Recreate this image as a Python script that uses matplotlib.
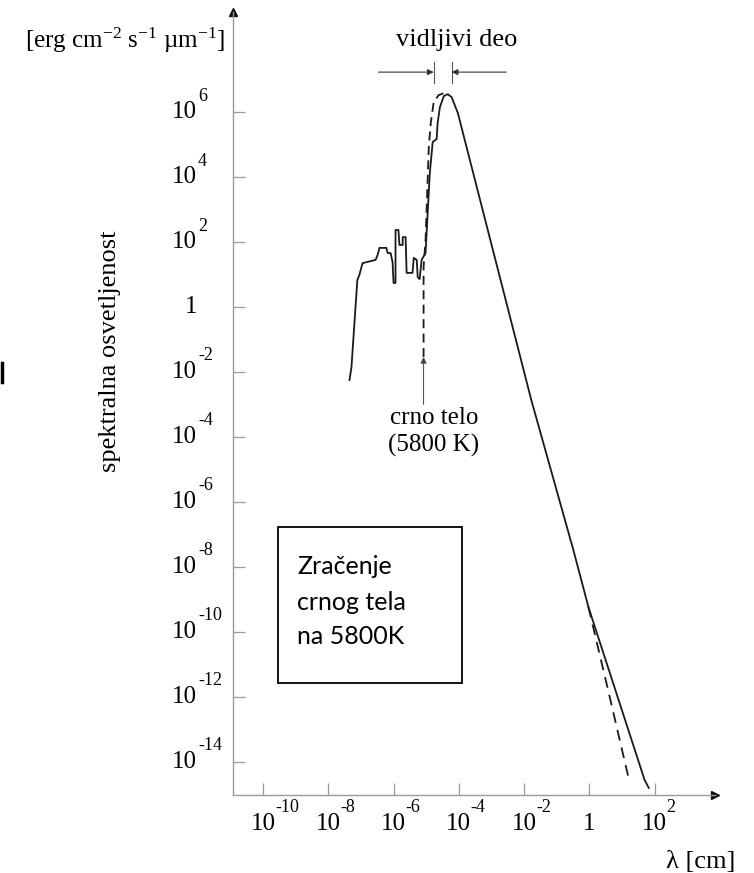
import matplotlib
matplotlib.use('Agg')
import numpy as np
import matplotlib.pyplot as plt
import matplotlib.transforms as mtransforms
from matplotlib.patches import Rectangle
from matplotlib.lines import Line2D
from matplotlib.ticker import NullLocator

plt.rcParams['font.family'] = ['Liberation Serif', 'DejaVu Serif']
plt.rcParams['mathtext.fontset'] = 'custom'
plt.rcParams['mathtext.rm'] = 'Liberation Serif'
plt.rcParams['mathtext.it'] = 'Liberation Serif:italic'

# Solar spectrum (log10 of lambda [cm] and of flux)
sun_logx = [-7.35, -7.29, -7.11, -7.05, -6.95, -6.55, -6.49, -6.43, -6.22, -6.18,
            -6.09, -6.03, -6.00, -5.94, -5.94, -5.85, -5.82, -5.72, -5.72, -5.63,
            -5.60, -5.42, -5.38, -5.29, -5.26, -5.20, -5.14, -5.02, -4.89, -4.80,
            -4.68, -4.65, -4.58, -4.46, -4.34, -4.22, -4.03, -1.78, -0.49, -0.03,
            1.69, 1.82]
sun_logy = [-2.25, -1.85, 0.83, 0.98, 1.35, 1.45, 1.60, 1.82, 1.82, 1.66,
            1.66, 1.38, 0.74, 0.74, 2.37, 2.37, 1.91, 1.91, 2.15, 2.15,
            1.05, 1.05, 1.51, 1.45, 0.92, 0.86, 1.45, 1.66, 4.12, 5.08,
            5.17, 5.66, 6.15, 6.49, 6.55, 6.46, 5.97, -2.86, -7.48, -9.23,
            -14.55, -14.80]

# Black body 5800 K (dashed): short-wave rise and long-wave tail
bb_short_logx = [-5.08, -5.08, -5.02, -4.92, -4.86, -4.77, -4.62, -4.46]
bb_short_logy = [-1.54, 1.23, 2.06, 4.92, 5.66, 6.31, 6.52, 6.58]
bb_tail_logx = [-0.03, 0.60, 1.23]
bb_tail_logy = [-9.23, -11.90, -14.62]

# ticks
x_tick_exp = [-10, -8, -6, -4, -2, 0, 2]
y_tick_exp = [6, 4, 2, 0, -2, -4, -6, -8, -10, -12, -14]

W, H = 754, 873
fig = plt.figure(figsize=(W / 100, H / 100), dpi=100)
fig.patch.set_facecolor('white')

def fx(px):
    return px / W

def fy(py):
    return 1 - py / H

ax = fig.add_axes([fx(233), fy(795), (715 - 233) / W, (795 - 12) / H])
ax.set_xscale('log')
ax.set_yscale('log')
ax.set_xlim(10 ** -10.92, 10 ** 3.85)
ax.set_ylim(10 ** -15.02, 10 ** 9.08)

for s in ['top', 'right']:
    ax.spines[s].set_visible(False)
for s in ['left', 'bottom']:
    ax.spines[s].set_color('#9a9a9a')
    ax.spines[s].set_linewidth(1.0)

ax.set_xticks([10.0 ** e for e in x_tick_exp])
ax.set_yticks([10.0 ** e for e in y_tick_exp])
ax.xaxis.set_minor_locator(NullLocator())
ax.yaxis.set_minor_locator(NullLocator())
ax.tick_params(axis='both', direction='in', length=8.6, width=0.9, color='#9a9a9a',
               labelbottom=False, labelleft=False)

# axis arrow heads
ax.plot(1, 0, '>', transform=ax.transAxes, clip_on=False, color='#111111', ms=6)
ax.plot(0, 1, '^', transform=ax.transAxes, clip_on=False, color='#111111', ms=6)

# curves
ax.plot(10.0 ** np.array(sun_logx), 10.0 ** np.array(sun_logy), color='#1a1a1a', lw=1.3)
ax.plot(10.0 ** np.array(bb_short_logx), 10.0 ** np.array(bb_short_logy), color='#1a1a1a',
        lw=1.3, linestyle=(0, (5, 3)))
ax.plot(10.0 ** np.array(bb_tail_logx), 10.0 ** np.array(bb_tail_logy), color='#1a1a1a',
        lw=1.3, linestyle=(0, (6, 4)))

# tick labels: "10" plus raised exponent
xlab_tr = mtransforms.blended_transform_factory(ax.transData, fig.transFigure)
for e in x_tick_exp:
    v = 10.0 ** e
    if e == 0:
        ax.text(v, fy(824), '1', transform=xlab_tr, ha='center', va='center', fontsize=18)
        continue
    ax.text(v, fy(824), '10', transform=xlab_tr, ha='center', va='center', fontsize=18)
    sup_tr = mtransforms.offset_copy(xlab_tr, fig=fig, x=12, y=16, units='dots')
    ax.text(v, fy(824), '-%d' % (-e) if e < 0 else '%d' % e, transform=sup_tr,
            ha='left', va='center', fontsize=13)

ylab_tr = mtransforms.blended_transform_factory(fig.transFigure, ax.transData)
for e in y_tick_exp:
    v = 10.0 ** e
    if e == 0:
        ax.text(fx(197), v, '1', transform=ylab_tr, ha='right', va='center', fontsize=18)
        continue
    ax.text(fx(197), v, '10', transform=ylab_tr, ha='right', va='center', fontsize=18)
    sup_tr = mtransforms.offset_copy(ylab_tr, fig=fig, x=1, y=16, units='dots')
    ax.text(fx(197), v, '-%d' % (-e) if e < 0 else '%d' % e, transform=sup_tr,
            ha='left', va='center', fontsize=13)

# visible range marker
ax.annotate('', xy=(10 ** -4.77, 10 ** 7.23), xytext=(10 ** -6.46, 10 ** 7.23),
            arrowprops=dict(arrowstyle='-|>', color='#333333', lw=0.8,
                            mutation_scale=9, shrinkA=0, shrinkB=0))
ax.annotate('', xy=(10 ** -4.22, 10 ** 7.23), xytext=(10 ** -2.55, 10 ** 7.23),
            arrowprops=dict(arrowstyle='-|>', color='#333333', lw=0.8,
                            mutation_scale=9, shrinkA=0, shrinkB=0))
for bx in [-4.77, -4.22]:
    ax.plot([10 ** bx, 10 ** bx], [10 ** 6.89, 10 ** 7.54], color='#555555', lw=0.8)

# black body pointer
ax.annotate('', xy=(10 ** -5.08, 10 ** -1.54), xytext=(10 ** -5.08, 10 ** -3.0),
            arrowprops=dict(arrowstyle='-|>', color='#444444', lw=0.7,
                            mutation_scale=9, shrinkA=0, shrinkB=0))

fig.text(fx(434), fy(407), 'crno telo\n(5800 K)', ha='center', va='top', fontsize=18,
         linespacing=1.28)
fig.text(fx(457), fy(40), 'vidljivi deo', ha='center', va='center', fontsize=19)
fig.text(fx(225), fy(40), r'[erg cm$^{-2}$ s$^{-1}$ µm$^{-1}$]', ha='right', va='center',
         fontsize=18)
fig.text(fx(110), fy(472), 'spektralna osvetljenost', rotation=90, ha='center',
         va='bottom', fontsize=19)
fig.text(fx(701), fy(862), 'λ [cm]', ha='center', va='center', fontsize=19)

# note box
fig.add_artist(Rectangle((fx(278), fy(683)), (462 - 278) / W, (683 - 527) / H,
                         transform=fig.transFigure, fill=False, ec='black', lw=1.3))
for txt, py in zip(['Zračenje', 'crnog tela', 'na 5800K'], [567, 602, 637]):
    fig.text(fx(297), fy(py), txt, family=['Lato', 'DejaVu Sans'], fontsize=18,
             ha='left', va='center')

# small mark at the left edge of the scan
fig.add_artist(Line2D([fx(1.5), fx(1.5)], [fy(363), fy(382)], color='black', lw=2.5))

fig.savefig('out.png', dpi=100)
